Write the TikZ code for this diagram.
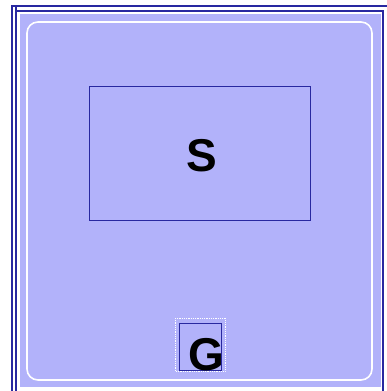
\documentclass[tikz,border=0pt]{standalone}
\usepackage{fontspec}
\setmainfont{Liberation Sans}
\definecolor{fillblue}{RGB}{178,178,250}
\definecolor{navy}{RGB}{40,40,160}
\begin{document}
\begin{tikzpicture}[x=1pt,y=-1pt,
  frameline/.style={draw=navy,line width=1.2pt},
  boxline/.style={draw=navy,line width=1pt},
  lettertext/.style={font=\bfseries\fontsize{46}{46}\selectfont,text=black,inner sep=0pt}]
\useasboundingbox (0,0) rectangle (387,391);
% background fill
\fill[fillblue] (20,14) rectangle (381,387);
% frame lines
\draw[frameline] (12,391) -- (12,6) -- (387,6);
\draw[frameline] (16,391) -- (16,6);
\draw[frameline] (16,11) -- (383,11) -- (383,391);
% white rounded rectangle
\draw[white,line width=1.6pt,rounded corners=11pt] (27,22) rectangle (372,380);
% S box
\draw[boxline] (89,86) rectangle (310,220);
\node[lettertext] (S) at (202,156) {S};
% G boxes
\draw[white,line width=0.8pt,densely dotted] (175,318) rectangle (225,371);
\draw[boxline] (179,323) rectangle (221,370);
\node[lettertext,anchor=base] (G) at (206,370) {G};
\end{tikzpicture}
\end{document}
